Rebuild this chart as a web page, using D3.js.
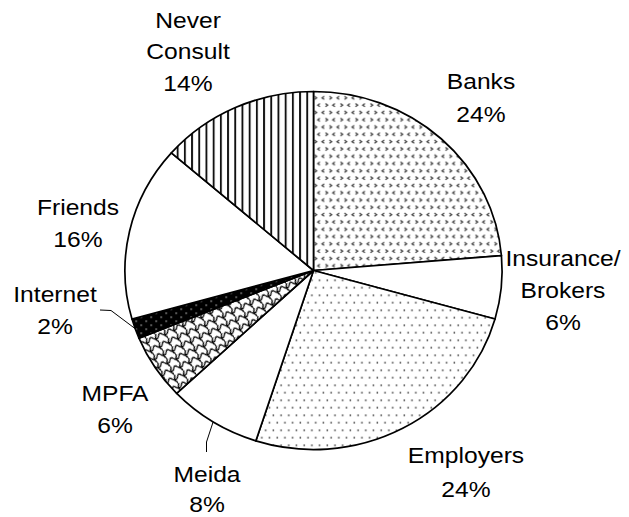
<!DOCTYPE html>
<html>
<head>
<meta charset="utf-8">
<script src="https://cdn.jsdelivr.net/npm/d3@7"></script>
<style>
  html, body { margin: 0; padding: 0; background: #fff; }
  svg { display: block; }
  text { font-family: "Liberation Sans", Arial, Helvetica, sans-serif; fill: #000; }
</style>
</head>
<body>
<svg id="chart" width="629" height="517"></svg>
<script>
// ---- data ----
const categories = ["Banks", "Insurance/\nBrokers", "Employers", "Meida", "MPFA", "Internet", "Friends", "Never\nConsult"];
const shares = [23.7, 5.7, 25.6, 8.0, 5.9, 1.8, 15.8, 13.6];
const percentLabels = ["24%", "6%", "24%", "8%", "6%", "2%", "16%", "14%"];

// ---- layout ----
const W = 629, H = 517;
const cx = 313.5, cy = 270.5, rx = 188.5, ry = 179;
const fontSize = 22, stretchX = 1.12;
// label anchor (x centre, first baseline, line gap) per category
const labelPos = [
  [481, 89, 33],
  [563, 266, 32],
  [466, 463, 34],
  [207, 482, 30],
  [115, 401, 32],
  [55, 302, 32],
  [78, 215, 32],
  [188, 28, 31.5]
];
const fills = ["url(#pBanks)", "#fff", "url(#pDots)", "#fff", "url(#pScale)", "url(#pInternet)", "#fff", "url(#pStripes)"];

const svg = d3.select("#chart");
const defs = svg.append("defs");
const pt = `scale(${1 / rx},${1 / ry})`;

// Banks: chevrons
const pb = defs.append("pattern").attr("id", "pBanks").attr("patternUnits", "userSpaceOnUse")
  .attr("width", 15).attr("height", 14.6).attr("patternTransform", pt);
pb.append("rect").attr("width", 15).attr("height", 14.6).attr("fill", "#fff");
pb.append("path").attr("d",
  "M1,1 L3.2,2.6 L1,4.2 M10.7,1 L8.5,2.6 L10.7,4.2 M6.4,8.3 L4.2,9.9 L6.4,11.5 M12,8.3 L14.2,9.9 L12,11.5")
  .attr("fill", "none").attr("stroke", "#333").attr("stroke-width", 1.1);

// Employers: dots
const pd = defs.append("pattern").attr("id", "pDots").attr("patternUnits", "userSpaceOnUse")
  .attr("width", 15.4).attr("height", 15).attr("patternTransform", pt);
pd.append("rect").attr("width", 15.4).attr("height", 15).attr("fill", "#fff");
[[1.5, 1.5], [9.2, 1.5], [5.35, 9], [13.05, 9]].forEach(([x, y]) =>
  pd.append("rect").attr("x", x).attr("y", y).attr("width", 1.5).attr("height", 1.5).attr("fill", "#333"));

// MPFA: scalloped shingles
const ps = defs.append("pattern").attr("id", "pScale").attr("patternUnits", "userSpaceOnUse")
  .attr("width", 10).attr("height", 9).attr("patternTransform", pt + " rotate(-25)");
ps.append("rect").attr("width", 10).attr("height", 9).attr("fill", "#fff");
ps.append("path").attr("d",
  "M0,4.5 C2,4.5 2,1 4,1 C6,1 6,4.5 8,4.5 L10,4.5 M8,4.5 C8,6.5 10,7 10,9 M-2,4.5 L0,4.5 M0,0 C0,2 -2,2.5 -2,4.5 M10,0 C10,2 8,2.5 8,4.5")
  .attr("fill", "none").attr("stroke", "#000").attr("stroke-width", 1.3);

// Internet: black with white specks
const pi = defs.append("pattern").attr("id", "pInternet").attr("patternUnits", "userSpaceOnUse")
  .attr("width", 10).attr("height", 8).attr("patternTransform", pt);
pi.append("rect").attr("width", 10).attr("height", 8).attr("fill", "#000");
pi.append("rect").attr("x", 2).attr("y", 2).attr("width", 1.3).attr("height", 1.3).attr("fill", "#ccc");
pi.append("rect").attr("x", 7).attr("y", 6).attr("width", 1.3).attr("height", 1.3).attr("fill", "#ccc");

// Never Consult: vertical stripes
const pv = defs.append("pattern").attr("id", "pStripes").attr("patternUnits", "userSpaceOnUse")
  .attr("width", 7.2).attr("height", 10).attr("patternTransform", pt);
pv.append("rect").attr("width", 7.2).attr("height", 10).attr("fill", "#fff");
pv.append("rect").attr("x", 0).attr("y", 0).attr("width", 1.9).attr("height", 10).attr("fill", "#111");

// ---- pie ----
const pie = d3.pie().sort(null).value(d => d)(shares);
const arc = d3.arc().innerRadius(0).outerRadius(1);

const g = svg.append("g").attr("transform", `translate(${cx},${cy}) scale(${rx},${ry})`);
g.selectAll("path.slice").data(pie).join("path")
  .attr("class", "slice")
  .attr("d", arc)
  .attr("fill", (d, i) => fills[i])
  .attr("stroke", "#000")
  .attr("stroke-width", 1.7)
  .attr("stroke-linejoin", "round")
  .attr("vector-effect", "non-scaling-stroke");

// point on ellipse rim for an angle (d3.pie angle convention)
function rim(a, k = 1) {
  return [cx + rx * k * Math.sin(a), cy - ry * k * Math.cos(a)];
}

// ---- leader lines (Internet, Meida) ----
const midA = d => (d.startAngle + d.endAngle) / 2;
const leader = d3.line();
{
  const d = pie[5];
  const p = rim(midA(d), 1.0);
  svg.append("path").attr("d", leader([[100, 310], [111, 310.5], p]))
    .attr("fill", "none").attr("stroke", "#000").attr("stroke-width", 1);
}
{
  const d = pie[3];
  const p = rim(midA(d), 1.0);
  svg.append("path").attr("d", leader([[206.5, 452], [206.5, 442], p]))
    .attr("fill", "none").attr("stroke", "#000").attr("stroke-width", 1);
}

// ---- labels ----
categories.forEach((c, i) => {
  const [x, y, gap] = labelPos[i];
  const lines = c.split("\n").concat([percentLabels[i]]);
  const lg = svg.append("g").attr("transform", `translate(${x},${y}) scale(${stretchX},1)`);
  lines.forEach((t, j) => {
    lg.append("text").attr("x", 0).attr("y", j * gap)
      .attr("text-anchor", "middle").attr("font-size", fontSize).text(t);
  });
});
</script>
</body>
</html>
